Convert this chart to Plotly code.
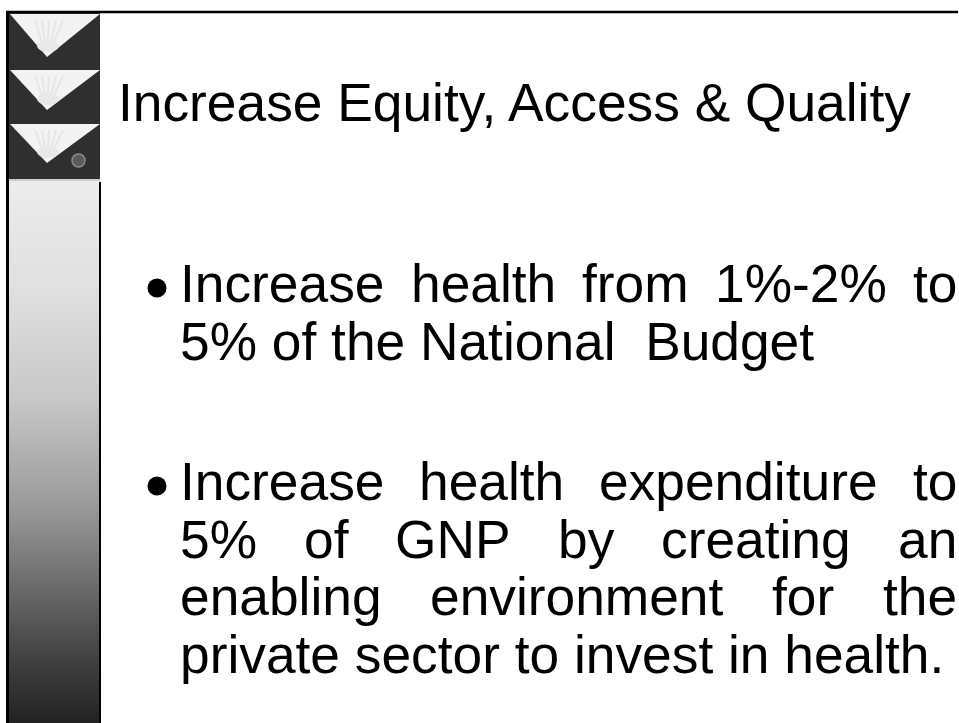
import plotly.graph_objects as go

# ---------------- content ----------------
title_text = "Increase Equity, Access & Quality"
bullet1_lines = ["Increase health from 1%-2% to", "5% of the National\u00a0 Budget"]
bullet2_lines = ["Increase health expenditure to", "5% of GNP by creating an",
                 "enabling environment for the", "private sector to invest in health."]
gradient_stops = [0.0, 0.2, 0.4, 0.6, 0.75, 0.9, 1.0]
gradient_colors = ["#ececec", "#e0e0e0", "#c8c8c8", "#9a9a9a", "#6a6a6a", "#3c3c3c", "#222222"]

# ---------------- layout constants (page pixels) ----------------
W, H = 959, 723
FONT = "Liberation Sans, Arial, sans-serif"
SIZE = 53.3
TEXT_LEFT, TEXT_RIGHT = 179, 956
TITLE_X, TITLE_BASE = 117, 121
B1_BASE, B2_BASE, LINE_STEP = 302, 500, 57.7

ARIAL = {' ': 278, '%': 889, '-': 333, '.': 278, ',': 278, '&': 667, '\u00a0': 278,
         'A': 667, 'B': 667, 'E': 667, 'G': 778, 'I': 278, 'N': 722, 'P': 667, 'Q': 778}
for d in "0123456789":
    ARIAL[d] = 556
ARIAL.update({'a': 556, 'b': 556, 'c': 500, 'd': 556, 'e': 556, 'f': 278, 'g': 556,
              'h': 556, 'i': 222, 'l': 222, 'm': 833, 'n': 556, 'o': 556, 'p': 556,
              'r': 333, 's': 500, 't': 278, 'u': 556, 'v': 500, 'x': 500, 'y': 500})


def tw(s):
    return sum(ARIAL.get(c, 556) for c in s) / 1000 * SIZE


def center_from_base(b):
    return b - 0.3465 * SIZE


annotations = []


def add_text(x, base, txt):
    annotations.append(dict(x=x, y=center_from_base(base), xref="x", yref="y", text=txt,
                            showarrow=False, xanchor="left", yanchor="middle", borderpad=0,
                            font=dict(family=FONT, size=SIZE, color="black")))


add_text(TITLE_X, TITLE_BASE, title_text)

bullet_y = []
for lines, base0 in ((bullet1_lines, B1_BASE), (bullet2_lines, B2_BASE)):
    bullet_y.append(base0 - 14)
    for i, line in enumerate(lines):
        base = base0 + i * LINE_STEP
        if i == len(lines) - 1:
            add_text(TEXT_LEFT, base, line)
        else:
            words = line.split(" ")
            total = sum(tw(w) for w in words)
            gap = (TEXT_RIGHT - TEXT_LEFT - total) / (len(words) - 1)
            x = TEXT_LEFT
            for w in words:
                add_text(x, base, w)
                x += tw(w) + gap

fig = go.Figure()

# gradient panel
fig.add_trace(go.Scatter(
    x=[9, 100, 100, 9, 9], y=[181, 181, H, H, 181], mode="lines", fill="toself",
    line=dict(width=0), hoverinfo="skip", showlegend=False,
    fillgradient=dict(type="vertical", start=181, stop=H,
                      colorscale=[[s, c] for s, c in zip(gradient_stops, gradient_colors)])))

# bullets
fig.add_trace(go.Scatter(x=[157] * len(bullet_y), y=bullet_y, mode="markers",
                         marker=dict(size=19, color="black", symbol="circle", line=dict(width=0)),
                         hoverinfo="skip", showlegend=False))

shapes = []
# dark chevron block
shapes.append(dict(type="rect", x0=9, x1=100, y0=13, y1=179, fillcolor="#2f2f2f",
                   line=dict(width=0), layer="below"))
for top, apex in ((14, 57), (70, 110), (124, 163)):
    shapes.append(dict(type="path", path=f"M 10 {top} L 100 {top} L 47 {apex} Z",
                       fillcolor="#f3f3f3", line=dict(width=0), layer="below"))
    # faint sun rays
    for dx in (-12, -5, 2, 9, 16):
        shapes.append(dict(type="line", x0=47 + dx * 0.3, y0=apex - 10, x1=47 + dx, y1=top + 6,
                           line=dict(color="#e6e6e6", width=2), layer="below"))
    shapes.append(dict(type="circle", x0=37, x1=59, y0=apex - 17, y1=apex - 5,
                       fillcolor="#e8e8e8", line=dict(width=0), layer="below"))
# emblem
shapes.append(dict(type="circle", x0=72, x1=85, y0=154, y1=167, fillcolor="#5a5a5a",
                   line=dict(color="#8a8a8a", width=1.5), layer="below"))
# light separator
shapes.append(dict(type="line", x0=9, x1=100, y0=180, y1=180, line=dict(color="#bdbdbd", width=1.5)))
# borders
shapes.append(dict(type="line", x0=6, x1=958, y0=12, y1=12, line=dict(color="black", width=2.5)))
shapes.append(dict(type="line", x0=7.5, x1=7.5, y0=11, y1=H, line=dict(color="black", width=3)))
shapes.append(dict(type="line", x0=100, x1=100, y0=182, y1=H, line=dict(color="black", width=2)))

fig.update_layout(
    width=W, height=H, margin=dict(l=0, r=0, t=0, b=0),
    paper_bgcolor="white", plot_bgcolor="white",
    xaxis=dict(range=[0, W], visible=False, fixedrange=True),
    yaxis=dict(range=[H, 0], visible=False, fixedrange=True),
    shapes=shapes, annotations=annotations, showlegend=False,
)

fig.write_html(
    "out.html",
    config={"displayModeBar": False},
    post_script=("document.body.style.margin='0';"
                 "document.body.style.overflow='hidden';"
                 "document.documentElement.style.overflow='hidden';"),
)
